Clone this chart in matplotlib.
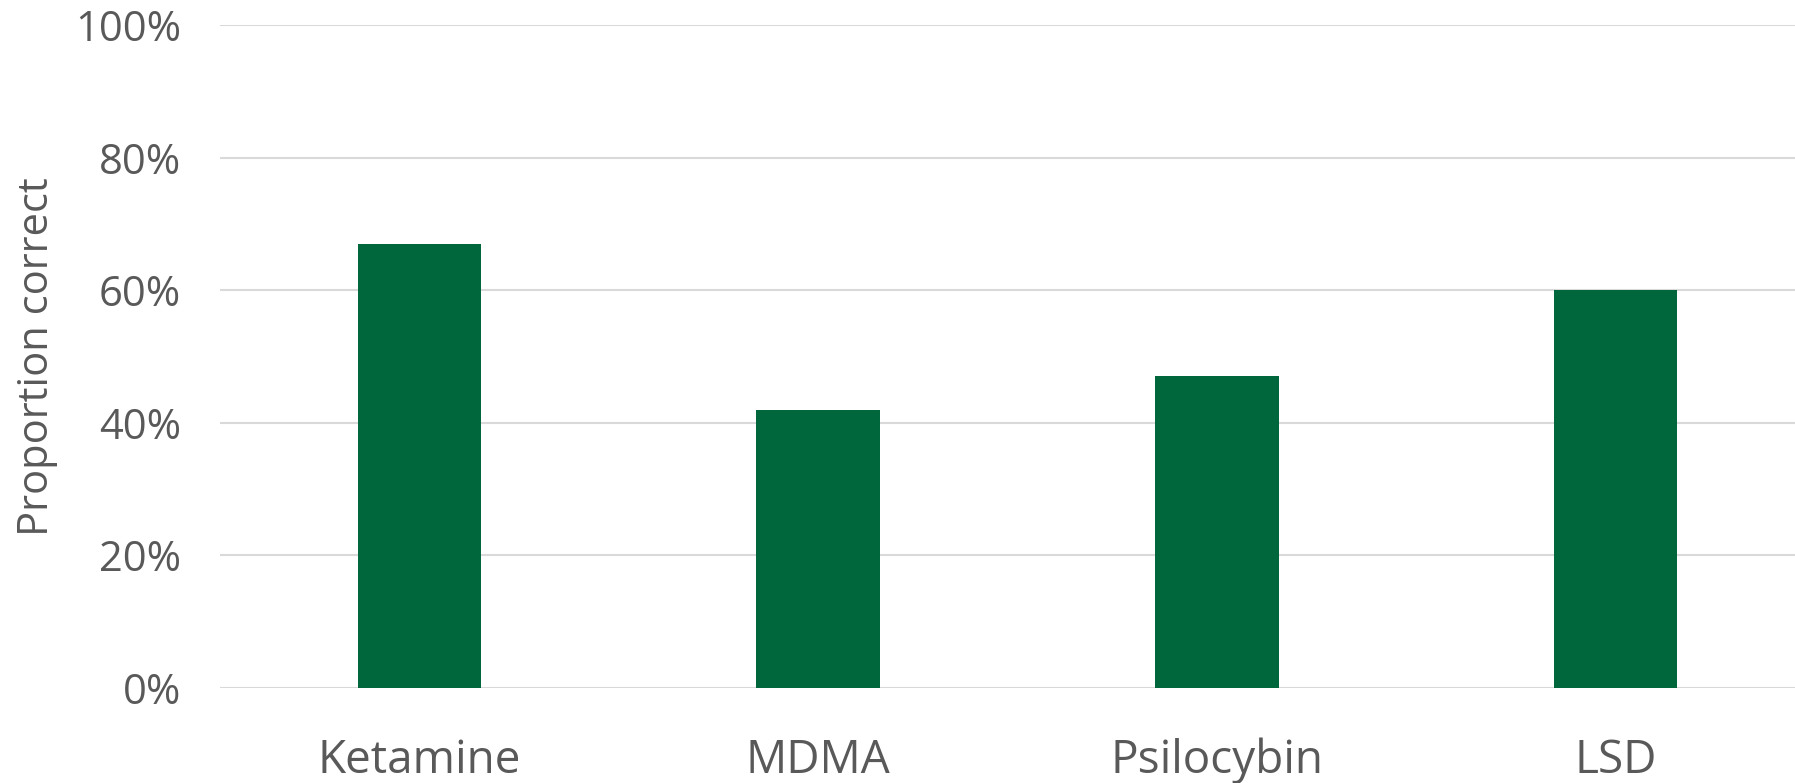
import matplotlib.pyplot as plt
from matplotlib.ticker import PercentFormatter

drugs = ['Ketamine', 'MDMA', 'Psilocybin', 'LSD']
proportion_correct = [0.67, 0.42, 0.47, 0.60]

plt.rcParams['font.family'] = ['Open Sans', 'DejaVu Sans']
text_color = '#595959'

fig = plt.figure(figsize=(17.95, 7.83), dpi=100)
ax = fig.add_axes([220 / 1795, 95 / 783, 1595 / 1795, 663 / 783])

ax.bar(range(len(drugs)), proportion_correct, width=0.31, color='#00673D', zorder=3)

ax.set_xlim(-0.5, len(drugs) - 0.5)
ax.set_ylim(0, 1)
ax.set_yticks([0, 0.2, 0.4, 0.6, 0.8, 1.0])
ax.yaxis.set_major_formatter(PercentFormatter(1.0, decimals=0))
ax.set_xticks(range(len(drugs)))
ax.set_xticklabels(drugs)

ax.grid(axis='y', color='#D9D9D9', linewidth=1.5, zorder=0)
ax.set_axisbelow(True)
for s in ax.spines.values():
    s.set_visible(False)
ax.tick_params(axis='both', length=0, colors=text_color)
ax.tick_params(axis='y', labelsize=30, pad=28)
ax.tick_params(axis='x', labelsize=33, pad=36)

ax.set_ylabel('Proportion correct', fontsize=30, color=text_color, labelpad=12)

plt.savefig('out.png')
